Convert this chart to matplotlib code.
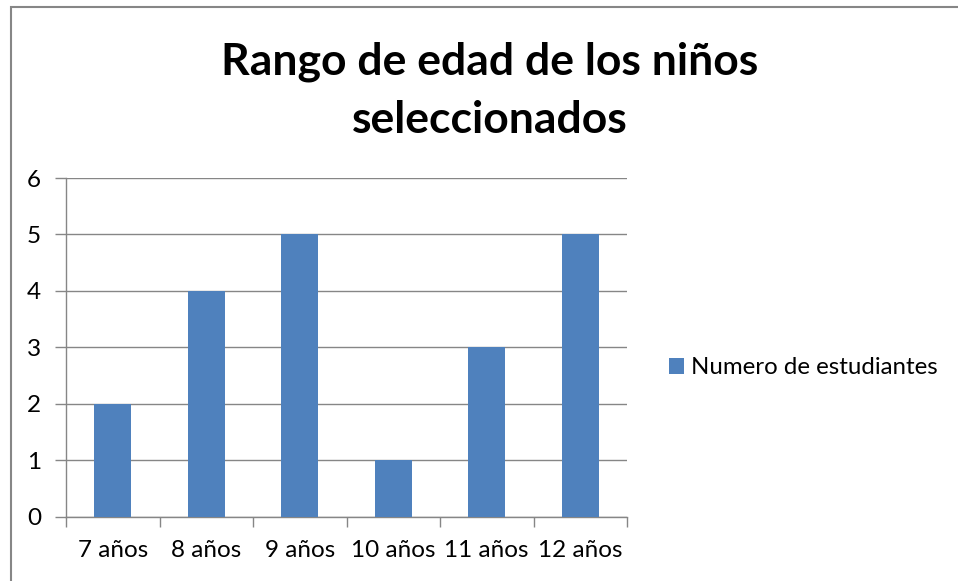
import matplotlib
matplotlib.use("Agg")
from matplotlib import pyplot as plt
from matplotlib.patches import Rectangle
import numpy as np

categories = ['7 años', '8 años', '9 años', '10 años', '11 años', '12 años']
estudiantes = [2, 4, 5, 1, 3, 5]
serie = 'Numero de estudiantes'
titulo = 'Rango de edad de los niños\nseleccionados'

plt.rcParams['font.family'] = ['Lato', 'DejaVu Sans']

fig = plt.figure(figsize=(9.58, 5.81), dpi=100)
# chart border
fig.patches.append(Rectangle((11 / 958, -0.1), 1.2, (581 - 7) / 581 + 0.1,
                             transform=fig.transFigure, fill=False,
                             edgecolor='#868686', linewidth=1.5))

ax = fig.add_axes([66 / 958, (581 - 516.7) / 581, 561 / 958, 338.7 / 581])
x = np.arange(len(categories))
ax.bar(x, estudiantes, width=0.4, color='#4F81BD', label=serie, zorder=3)

ax.set_xlim(-0.5, len(categories) - 0.5)
ax.set_ylim(0, 6)
ax.set_yticks(range(7))
ax.set_xticks(x)
ax.set_xticklabels(categories)
ax.set_xticks(np.arange(-0.5, len(categories)), minor=True)
ax.tick_params(axis='x', which='major', length=0, pad=17, labelsize=17.5)
ax.tick_params(axis='x', which='minor', length=7, color='#868686', width=1)
ax.tick_params(axis='y', length=8, color='#868686', width=1, pad=10, labelsize=17.5)
ax.grid(axis='y', color='#868686', linewidth=1, zorder=0)
for s in ['top', 'right']:
    ax.spines[s].set_visible(False)
for s in ['left', 'bottom']:
    ax.spines[s].set_color('#868686')
    ax.spines[s].set_linewidth(1)

fig.text(490 / 958, 1 - 91 / 581, titulo, ha='center', va='center',
         fontsize=32, fontweight='bold', linespacing=1.55)

fig.legend(loc='center left', bbox_to_anchor=(647 / 958, 1 - 368 / 581),
           frameon=False, fontsize=17.3, handlelength=0.65, handleheight=0.65,
           handletextpad=0.3)

plt.savefig('out.png', dpi=100)
